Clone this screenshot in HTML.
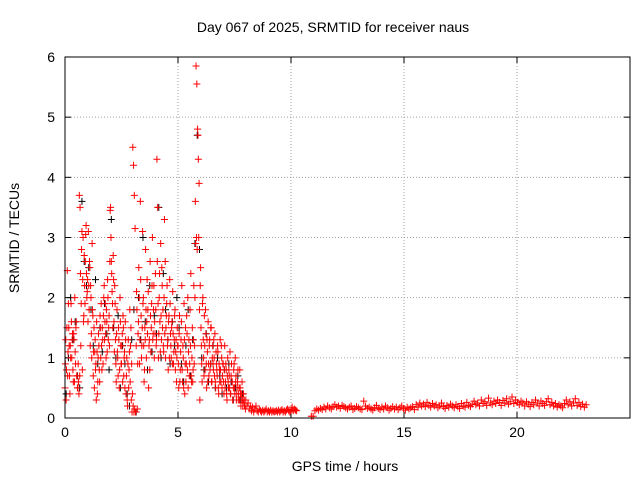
<!DOCTYPE html>
<html><head><meta charset="utf-8"><style>
html,body{margin:0;padding:0;background:#fff;}
svg{display:block;font-family:"Liberation Sans",sans-serif;}
</style></head><body>
<svg id="chart" width="640" height="480">
<rect width="640" height="480" fill="#fff"/>
<text x="333" y="32" font-size="14" text-anchor="middle">Day 067 of 2025, SRMTID for receiver naus</text>
<text x="345" y="471" font-size="14" text-anchor="middle">GPS time / hours</text>
<text x="19" y="238" font-size="14" text-anchor="middle" transform="rotate(-90 19 238)">SRMTID / TECUs</text>
<g id="grid"></g><g id="axes"></g><g id="black"></g><g id="red"></g>
<rect x="65" y="57" width="565" height="361" fill="none" stroke="#000"/>
</svg>
<script>
const xTicks=[0,5,10,15,20];
const yTicks=[0,1,2,3,4,5,6];
const redT0=[0,1/60,8,10.9];
const redStep=[1/30,1/30,0.05,0.08];
const redActive=[0.5,1.3,0.8,2.45,1.1,1.5,0.7,1.2,1.9,1.0,1.4,0.6,1.3,2.0,0.9,1.6,0.7,0.5,0.6,3.7,3.5,1.2,2.8,0.8,3.0,1.7,2.2,2.6,3.2,2.0,
2.3,3.1,1.8,2.5,2.2,1.4,2.9,1.7,1.1,0.5,1.3,0.9,1.6,0.4,1.0,1.2,0.6,1.5,1.9,0.8,1.3,1.7,2.2,1.6,1.4,1.8,1.1,2.0,1.5,1.2,
3.45,3.0,2.4,1.9,2.7,1.6,2.2,1.3,0.6,1.8,1.0,1.5,0.5,2.0,1.2,0.9,1.4,1.7,0.7,1.1,1.6,0.4,1.0,0.2,1.3,0.8,1.8,1.2,0.3,0.1,
4.5,4.2,3.7,3.15,0.1,2.1,0.15,1.4,2.5,0.9,3.6,1.7,1.2,3.1,2.0,0.6,1.5,2.8,1.0,2.3,1.8,0.5,1.3,2.6,1.1,1.9,3.0,1.4,2.2,1.6,
2.4,1.2,4.3,3.5,1.0,2.0,1.6,2.9,1.3,2.2,1.8,1.1,3.3,2.6,1.5,1.9,1.2,0.8,1.7,2.3,1.4,1.0,1.6,2.1,0.9,1.3,1.8,1.1,0.6,1.5,
1.2,0.5,1.7,0.8,1.3,2.2,0.6,1.0,1.9,0.4,1.5,0.9,1.4,2.0,1.1,0.7,1.8,2.4,0.6,1.5,0.8,2.2,1.2,3.6,5.85,5.55,4.8,4.3,3.9,0.3,
2.5,1.2,0.6,2.0,1.0,1.7,0.8,1.4,0.5,1.1,1.6,0.7,1.3,0.9,1.5,0.6,1.2,0.8,1.0,1.4,0.5,0.9,0.7,1.1,0.4,0.8,1.3,0.6,1.0,0.7,
0.9,0.4,1.2,0.6,0.8,0.3,1.0,0.5,0.7,1.1,0.4,0.9,0.6,0.3,0.8,0.5,1.0,0.7,0.4,0.6,0.3,0.5,0.8,0.4,0.3,0.6,0.2,0.4,0.3,0.2];
const redActive2=[0.9,0.3,1.5,0.7,1.9,1.2,0.4,1.0,1.6,1.3,0.8,1.4,0.6,1.1,1.5,0.7,0.5,0.9,0.4,0.7,2.4,1.9,3.1,2.3,1.6,2.7,1.9,3.05,2.4,2.1,
1.6,2.2,2.6,1.2,2.0,1.0,1.8,0.7,1.5,1.1,0.8,0.3,1.1,0.6,1.4,0.8,1.7,1.0,1.2,1.5,0.9,2.0,1.3,1.9,1.0,1.6,2.3,1.3,1.7,2.6,
3.5,2.6,2.1,1.5,2.3,1.1,1.9,0.9,1.4,1.1,0.7,1.3,0.8,1.6,0.9,1.2,0.6,1.5,1.0,0.5,1.3,0.7,0.3,0.9,0.5,1.1,0.6,1.5,0.9,0.4,
0.2,0.1,0.15,0.1,1.2,1.8,0.9,1.6,2.0,1.3,2.3,1.0,1.5,1.9,1.2,0.8,1.3,1.8,1.6,1.4,2.1,1.2,0.8,1.7,1.5,2.2,1.3,1.8,1.0,1.4,
1.8,1.3,2.6,1.9,1.4,2.4,1.1,1.7,2.5,1.5,1.2,2.0,1.4,1.0,1.7,2.2,1.3,1.6,1.0,1.9,1.2,1.5,0.9,1.4,1.1,1.7,0.8,1.3,1.0,1.2,
0.9,1.4,0.6,1.1,1.6,0.8,1.2,0.5,1.3,0.9,0.6,1.7,0.8,0.5,1.3,0.9,1.2,0.7,1.0,0.6,1.3,0.9,2.0,2.9,3.0,2.8,4.7,3.0,1.8,2.2,
1.5,0.9,1.9,1.3,0.7,1.2,1.8,0.9,1.3,0.6,0.9,1.2,0.8,1.5,0.6,1.0,0.9,1.3,0.7,0.6,1.1,0.8,1.2,0.5,0.9,0.6,0.8,1.2,0.5,0.9,
0.6,0.8,0.5,0.9,0.4,0.7,0.6,0.8,0.5,0.4,0.7,0.6,0.3,0.5,0.9,0.4,0.6,0.3,0.5,0.8,0.4,0.3,0.5,0.2,0.4,0.3,0.25,0.3,0.2,0.15];
const redQuiet1=[0.3,0.2,0.25,0.15,0.2,0.12,0.18,0.1,0.15,0.2,0.12,0.1,0.15,0.12,0.1,0.13,0.1,0.12,0.15,0.1,0.12,0.1,0.13,0.1,0.12,0.1,0.11,0.12,0.1,0.13,0.1,0.12,0.14,0.1,0.12,0.1,0.13,0.15,0.12,0.1,0.13,0.18,0.12,0.15,0.13,0.12];
const redQuiet2=[0.03,0.03,0.12,0.15,0.13,0.16,0.14,0.18,0.15,0.2,0.17,0.15,0.19,0.22,0.18,0.2,0.16,0.21,0.19,0.17,0.15,0.18,0.2,0.14,0.16,0.19,0.17,0.15,0.14,0.28,0.2,0.16,0.18,0.15,0.13,0.17,0.21,0.16,0.14,0.18,
0.15,0.2,0.17,0.13,0.16,0.19,0.15,0.18,0.14,0.17,0.2,0.16,0.13,0.18,0.15,0.17,0.19,0.14,0.22,0.18,0.25,0.2,0.23,0.19,0.26,0.21,0.18,0.24,0.2,0.22,0.17,0.2,0.25,0.19,0.16,0.21,0.18,0.23,0.2,0.17,
0.22,0.19,0.16,0.24,0.2,0.18,0.26,0.21,0.19,0.23,0.28,0.22,0.25,0.2,0.3,0.24,0.27,0.21,0.33,0.25,0.22,0.28,0.24,0.3,0.26,0.21,0.29,0.25,0.32,0.23,0.27,0.35,0.24,0.3,0.26,0.22,0.28,0.25,0.2,0.27,
0.23,0.19,0.26,0.22,0.3,0.25,0.2,0.28,0.24,0.21,0.27,0.32,0.22,0.26,0.2,0.24,0.18,0.22,0.2,0.17,0.24,0.3,0.22,0.27,0.2,0.25,0.32,0.21,0.26,0.19,0.23,0.18,0.22];
const blackT0=0, blackStep=0.1;
const blackValues=[0.4,1.0,2.0,1.3,1.6,0.7,0.5,3.6,2.6,2.2,2.5,1.8,1.2,2.3,0.9,1.5,1.1,1.9,1.4,0.8,
3.3,1.5,1.0,1.7,0.5,1.2,0.9,0.4,0.2,1.3,1.8,0.1,2.0,1.3,3.0,1.6,0.8,2.2,1.1,1.7,
1.4,3.5,1.0,2.4,1.8,1.3,0.9,1.6,1.2,2.0,1.5,0.9,0.6,1.2,1.8,0.7,1.3,2.9,4.7,2.8,
1.0,0.8,1.4,0.6,0.9,1.2,0.5,1.0,0.7,0.4,0.8,0.5,0.9,0.6,0.3,0.5,0.7,0.3,0.4,0.2];
const X=t=>65+t*22.6, Y=v=>418-v*60.17;
const NS="http://www.w3.org/2000/svg";
function el(tag,attrs,parent){const e=document.createElementNS(NS,tag);for(const k in attrs)e.setAttribute(k,attrs[k]);parent.appendChild(e);return e;}
const grid=document.getElementById('grid'),axes=document.getElementById('axes');
xTicks.forEach(t=>{const x=X(t);
 if(t>0){const g=el('line',{x1:x,x2:x,y1:57,y2:418,stroke:'#a0a0a0','stroke-dasharray':'1,2'},grid);
 
 }
 const l=el('text',{x:x,y:437,'font-size':14,'text-anchor':'middle'},axes);l.textContent=t;
 
 
 el('line',{x1:x,x2:x,y1:418,y2:412,stroke:'#000'},axes);el('line',{x1:x,x2:x,y1:57,y2:63,stroke:'#000'},axes);});
yTicks.forEach(v=>{const y=Y(v);
 if(v>0&&v<6){const g=el('line',{x1:65,x2:630,y1:y,y2:y,stroke:'#a0a0a0','stroke-dasharray':'1,2'},grid);
 
 }
 const l=el('text',{x:55,y:y+5,'font-size':14,'text-anchor':'end'},axes);l.textContent=v;
 
 
 el('line',{x1:65,x2:71,y1:y,y2:y,stroke:'#000'},axes);el('line',{x1:630,x2:624,y1:y,y2:y,stroke:'#000'},axes);});
function plus(t,v,color,parent,name){const x=X(t),y=Y(v);
 const p=el('path',{d:`M${x-3.5},${y}h7M${x},${y-3.5}v7`,stroke:color,'stroke-width':1,fill:'none'},parent);
 
 }
const bg=document.getElementById('black');
blackValues.forEach((v,i)=>plus(blackT0+i*blackStep+0.05,v,'#000',bg,'black-point'));
const rg=document.getElementById('red');
[redActive,redActive2,redQuiet1,redQuiet2].forEach((arr,s)=>arr.forEach((v,i)=>plus(redT0[s]+i*redStep[s],v,'#f00',rg,'red-point')));
</script>
</body></html>
